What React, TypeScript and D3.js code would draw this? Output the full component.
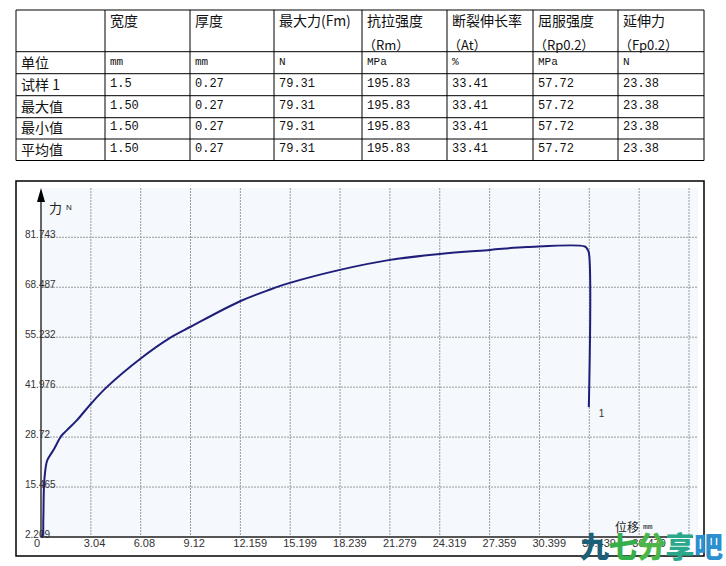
import React from "react";
import * as d3 from "d3";

// ---------- table data ----------
const headerLine1 = ["", "宽度", "厚度", "最大力(Fm)", "抗拉强度", "断裂伸长率", "屈服强度", "延伸力"];
const headerLine2 = ["", "", "", "", "（Rm）", "（At）", "（Rp0.2）", "（Fp0.2）"];
const unitRow = ["单位", "mm", "mm", "N", "MPa", "%", "MPa", "N"];
const rowLabels = ["试样 1", "最大值", "最小值", "平均值"];
const sampleRow = ["1.5", "0.27", "79.31", "195.83", "33.41", "57.72", "23.38"];
const maxRow = ["1.50", "0.27", "79.31", "195.83", "33.41", "57.72", "23.38"];
const minRow = ["1.50", "0.27", "79.31", "195.83", "33.41", "57.72", "23.38"];
const avgRow = ["1.50", "0.27", "79.31", "195.83", "33.41", "57.72", "23.38"];

// ---------- chart data ----------
const xTicks = [0, 3.04, 6.08, 9.12, 12.159, 15.199, 18.239, 21.279, 24.319, 27.359, 30.399, 33.439, 36.479, 39.519];
const xTickLabels = ["0", "3.04", "6.08", "9.12", "12.159", "15.199", "18.239", "21.279", "24.319", "27.359", "30.399", "33.439", "36.479", ""];
const yTicks = [2.209, 15.465, 28.72, 41.976, 55.232, 68.487, 81.743];
const yTickLabels = ["2.209", "15.465", "28.72", "41.976", "55.232", "68.487", "81.743"];

const displacement = [0.0, 0.1, 0.14, 0.18, 0.24, 0.38, 0.75, 1.26, 1.57, 2.18, 3.05, 4.01, 6.1, 7.87, 9.15, 12.14, 13.97, 15.18, 18.23, 21.28, 24.33, 27.38, 29.64, 33.17, 33.31, 33.41, 33.41];
const force = [2.2, 2.66, 6.63, 15.47, 19.02, 22.54, 25.2, 29.17, 30.5, 33.15, 37.58, 41.98, 49.66, 55.07, 58.07, 64.78, 67.88, 69.65, 73.1, 75.75, 77.34, 78.4, 79.15, 79.31, 78.66, 77.69, 36.67];

const seriesLabel = "1";
const yAxisTitle = "力";
const yAxisUnit = "N";
const xAxisTitle = "位移";
const xAxisUnit = "mm";
const watermarkChars = ["九", "七", "分", "享", "吧"];
const watermarkColors = ["#1c5f78", "#35ae4c", "#4bb749", "#2aa88c", "#2b8fd0"];

const CJK = "'Noto Sans CJK SC', sans-serif";
const MONO = "'Liberation Mono', 'DejaVu Sans Mono', monospace";
const NUM = "'Liberation Sans', Arial, sans-serif";

export default function App() {
  // table layout
  const colX = [16, 105, 190, 274, 362, 447, 533, 618, 704];
  const rowY = [10, 51.7, 73.7, 95.7, 117.7, 139, 160.5];
  const dataRows = [sampleRow, maxRow, minRow, avgRow];

  // chart scales
  const x = d3.scaleLinear().domain([0, 39.519]).range([41, 689]);
  const y = d3.scaleLinear().domain([2.209, 81.743]).range([537, 237.3]);
  const pts: [number, number][] = displacement.map((d, i) => [d, force[i]]);
  const line = d3
    .line<[number, number]>()
    .x((d) => x(d[0]))
    .y((d) => y(d[1]))
    .curve(d3.curveCatmullRom.alpha(0.5));

  const plotTop = 188;
  const plotRight = 698;
  const lastPt = pts[pts.length - 1];

  return (
    <svg width={726} height={566} style={{ position: "absolute", left: 0, top: 0, background: "#fff" }}>
      {/* ---------- table ---------- */}
      <g>
        {rowY.map((yy, i) => (
          <line key={"rh" + i} x1={colX[0]} x2={colX[colX.length - 1]} y1={yy} y2={yy} stroke="#000" strokeWidth={1} />
        ))}
        {colX.map((xx, i) => (
          <line key={"cv" + i} x1={xx} x2={xx} y1={rowY[0]} y2={rowY[rowY.length - 1]} stroke="#000" strokeWidth={1} />
        ))}
        {headerLine1.map((t, i) => (
          <text key={"h1" + i} x={colX[i] + 5} y={20} dominantBaseline="central" fontFamily={CJK} fontSize={14} fill="#111">
            {t}
          </text>
        ))}
        {headerLine2.map((t, i) => (
          <text key={"h2" + i} x={colX[i] + 1} y={44} dominantBaseline="central" fontFamily={CJK} fontSize={13} fill="#111">
            {t}
          </text>
        ))}
        {unitRow.map((t, i) => (
          <text
            key={"u" + i}
            x={colX[i] + 5}
            y={(rowY[1] + rowY[2]) / 2 - 1}
            dominantBaseline="central"
            fontFamily={i === 0 ? CJK : MONO}
            fontSize={i === 0 ? 14 : 11}
            fill="#111"
          >
            {t}
          </text>
        ))}
        {rowLabels.map((t, r) => (
          <text
            key={"rl" + r}
            x={colX[0] + 5}
            y={(rowY[r + 2] + rowY[r + 3]) / 2 - 1}
            dominantBaseline="central"
            fontFamily={CJK}
            fontSize={14}
            fill="#111"
          >
            {t}
          </text>
        ))}
        {dataRows.map((row, r) =>
          row.map((t, c) => (
            <text
              key={"d" + r + "-" + c}
              x={colX[c + 1] + 5}
              y={(rowY[r + 2] + rowY[r + 3]) / 2 - 1}
              dominantBaseline="central"
              fontFamily={MONO}
              fontSize={12}
              fill="#111"
            >
              {t}
            </text>
          ))
        )}
      </g>

      {/* ---------- chart frame ---------- */}
      <rect x={16} y={181} width={688} height={375} fill="#fff" stroke="#000" strokeWidth={1.5} />
      <rect x={x(0)} y={plotTop} width={plotRight - x(0)} height={y(2.209) - plotTop} fill="#f5f8fc" />

      {/* grid */}
      {xTicks.slice(1).map((t, i) => (
        <line key={"gx" + i} x1={x(t)} x2={x(t)} y1={plotTop} y2={y(2.209)} stroke="#9a9a9a" strokeWidth={1} strokeDasharray="2,1" />
      ))}
      {yTicks.slice(1).map((t, i) => (
        <line key={"gy" + i} x1={x(0)} x2={plotRight} y1={y(t)} y2={y(t)} stroke="#9a9a9a" strokeWidth={1} strokeDasharray="2,1" />
      ))}

      {/* axes */}
      <line x1={x(0)} x2={693} y1={y(2.209)} y2={y(2.209)} stroke="#555" strokeWidth={2} />
      <line x1={x(0)} x2={x(0)} y1={198} y2={y(2.209)} stroke="#333" strokeWidth={1.5} />
      <path d={`M${x(0)},${plotTop} L${x(0) - 4},${plotTop + 14} L${x(0) + 4},${plotTop + 14} Z`} fill="#000" />

      {/* tick labels */}
      {yTicks.map((t, i) => (
        <text key={"yl" + i} x={25} y={y(t) + 1} fontFamily={NUM} fontSize={10} fill="#333">
          {yTickLabels[i]}
        </text>
      ))}
      {xTicks.map((t, i) => (
        <text key={"xl" + i} x={x(t) - 7} y={547} fontFamily={NUM} fontSize={11} fill="#333">
          {xTickLabels[i]}
        </text>
      ))}

      {/* axis titles */}
      <text x={49} y={207} dominantBaseline="central" fontFamily={CJK} fontSize={13} fill="#222">
        {yAxisTitle}
        <tspan dx={4} fontFamily={NUM} fontSize={8}>
          {yAxisUnit}
        </tspan>
      </text>
      <text x={615} y={526} dominantBaseline="central" fontFamily={CJK} fontSize={12} fill="#222">
        {xAxisTitle}
        <tspan dx={4} fontFamily={MONO} fontSize={8}>
          {xAxisUnit}
        </tspan>
      </text>

      {/* curve */}
      <path d={line(pts) || ""} fill="none" stroke="#1f1f7a" strokeWidth={2} strokeLinejoin="round" />
      <text x={x(lastPt[0]) + 10} y={y(lastPt[1]) + 6} dominantBaseline="central" fontFamily={NUM} fontSize={10} fill="#333">
        {seriesLabel}
      </text>

      {/* watermark */}
      {watermarkChars.map((c, i) => (
        <text
          key={"wm" + i}
          x={580 + i * 28.5}
          y={545}
          dominantBaseline="central"
          fontFamily={CJK}
          fontWeight={900}
          fontSize={29}
          fill={watermarkColors[i]}
        >
          {c}
        </text>
      ))}
    </svg>
  );
}
